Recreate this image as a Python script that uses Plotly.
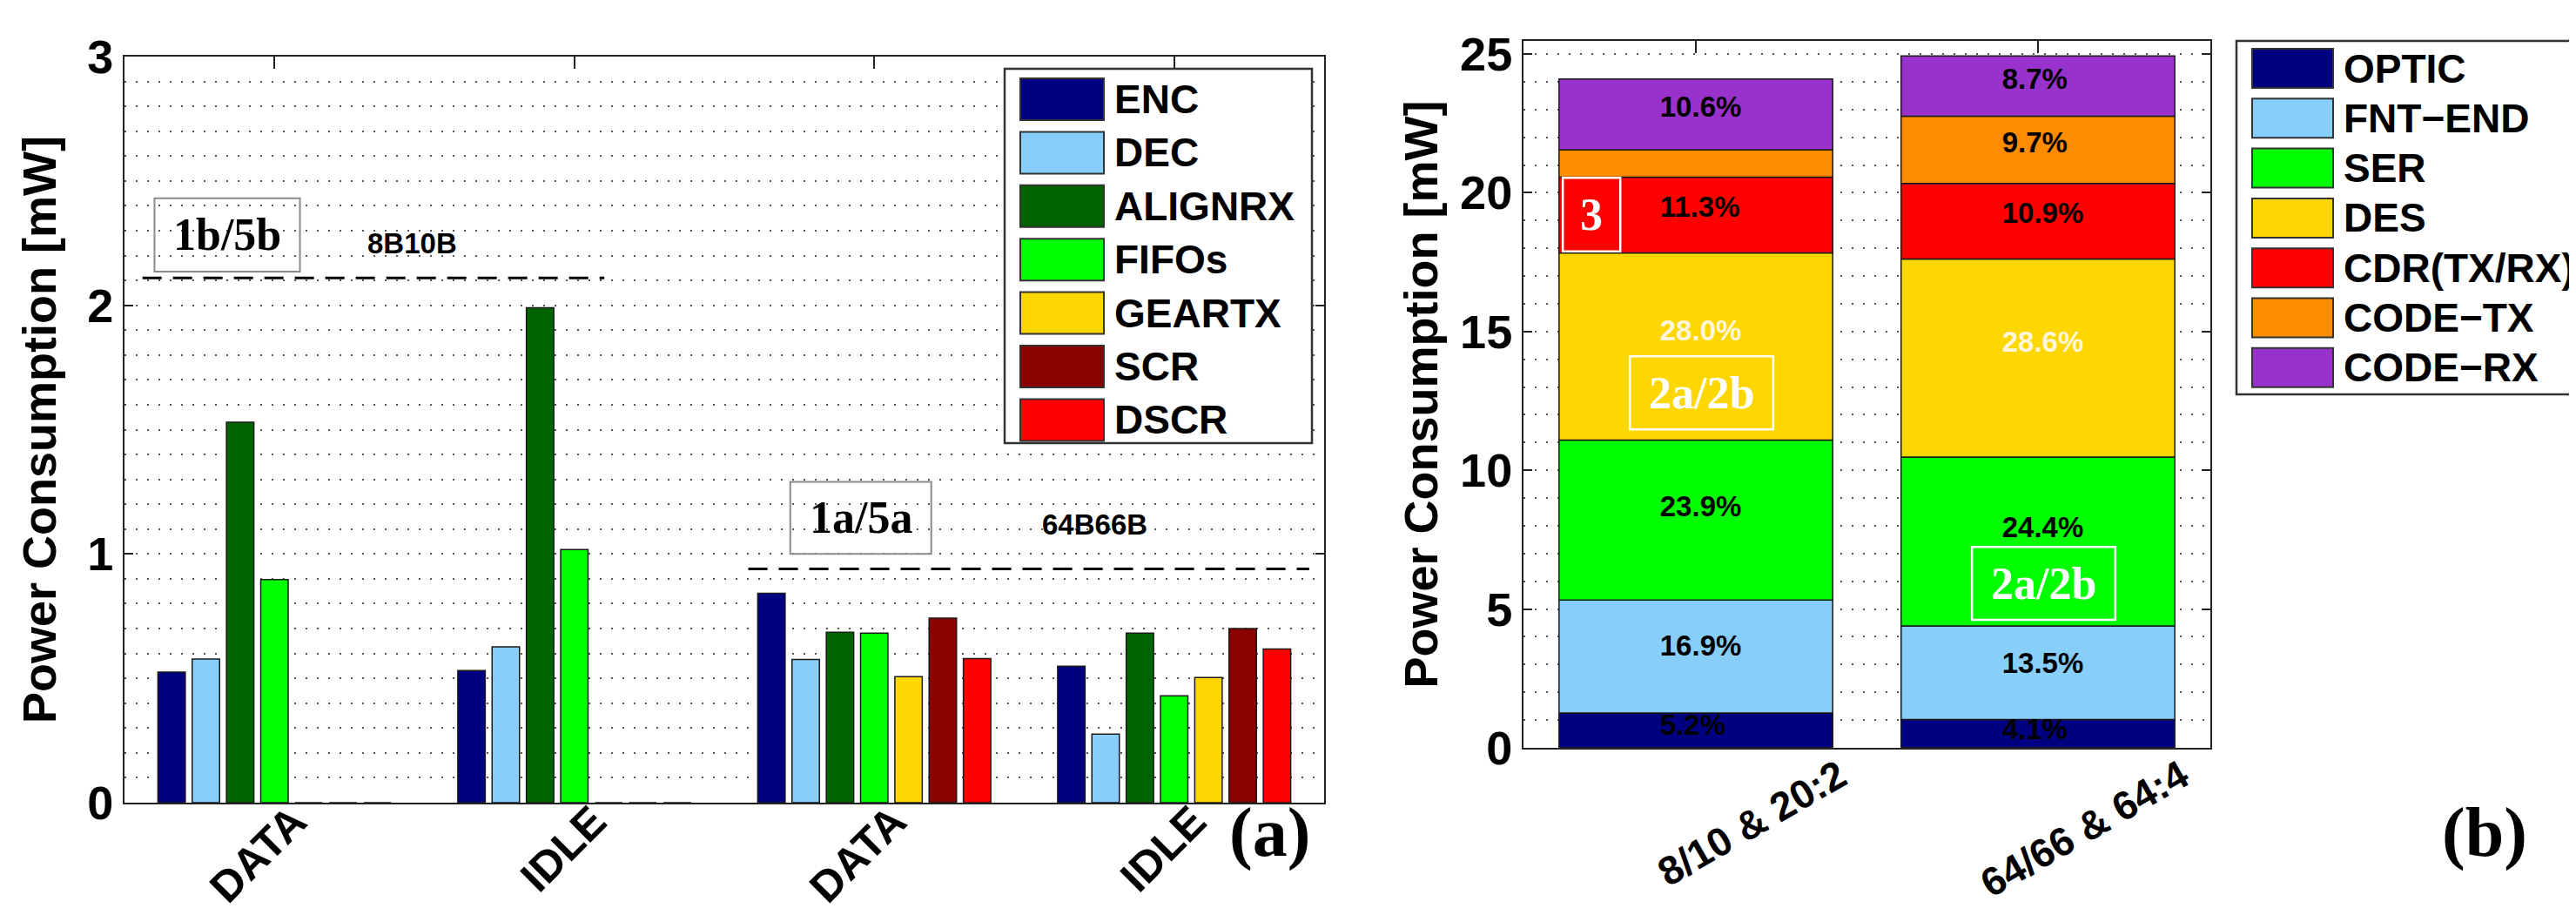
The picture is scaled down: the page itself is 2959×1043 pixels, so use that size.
import plotly.graph_objects as go

W, H = 2959, 1043
SANS = "Liberation Sans, Arial, Helvetica, sans-serif"
SERIF = "Liberation Serif, Times New Roman, serif"

# ---------------- panel (a): per-block power of the coding layer ----------------
code_states = ["DATA", "IDLE", "DATA", "IDLE"]
state_slots = [1, 2, 3, 4]
blocks_a = ["ENC", "DEC", "ALIGNRX", "FIFOs", "GEARTX", "SCR", "DSCR"]
enc_mw = [0.525, 0.531, 0.842, 0.549]
dec_mw = [0.578, 0.627, 0.576, 0.276]
alignrx_mw = [1.53, 1.99, 0.685, 0.682]
fifos_mw = [0.897, 1.018, 0.682, 0.430]
geartx_mw = [0, 0, 0.507, 0.503]
scr_mw = [0, 0, 0.742, 0.700]
dscr_mw = [0, 0, 0.579, 0.618]
series_a = [enc_mw, dec_mw, alignrx_mw, fifos_mw, geartx_mw, scr_mw, dscr_mw]
colors_a = ["#000080", "#87CEFA", "#006400", "#00FF00", "#FFD700", "#8B0000", "#FF0000"]

ref_codes = ["8B10B", "64B66B"]
ref_level_mw = [2.11, 0.94]
ref_tags = ["1b/5b", "1a/5a"]

# ---------------- panel (b): transceiver power breakdown ----------------
configs = ["8/10 & 20:2", "64/66 & 64:4"]
config_slots = [1, 2]
total_mw = [24.1, 24.95]
blocks_b = ["OPTIC", "FNT−END", "SER", "DES", "CDR(TX/RX)", "CODE−TX", "CODE−RX"]
optic_pct = [5.2, 4.1]
fntend_pct = [16.9, 13.5]
ser_pct = [23.9, 24.4]
des_pct = [28.0, 28.6]
cdr_pct = [11.3, 10.9]
codetx_pct = [4.1, 9.7]
coderx_pct = [10.6, 8.7]
series_b = [optic_pct, fntend_pct, ser_pct, des_pct, cdr_pct, codetx_pct, coderx_pct]
label_shown_b = [[1, 1], [1, 1], [1, 1], [1, 1], [1, 1], [0, 1], [1, 1]]
colors_b = ["#000080", "#87CEFA", "#00FF00", "#FFD700", "#FF0000", "#FF8C00", "#9932CC"]
label_colors_b = ["#000000", "#000000", "#000000", "#FFF6DC", "#000000", "#000000", "#000000"]
LABEL_FRAC = 0.57   # vertical placement of the % text inside each segment


def px(x):
    return x / W


def py(y):
    return 1 - y / H


fig = go.Figure()

# grouped bars, panel (a)
for name, vals, col in zip(blocks_a, series_a, colors_a):
    fig.add_trace(go.Bar(
        x=state_slots, y=vals, name=name, offsetgroup=name,
        marker=dict(color=col, line=dict(color="#1a1a1a", width=1.5)),
        xaxis="x", yaxis="y", showlegend=False))

# stacked bars, panel (b)
base = [0.0 for _ in config_slots]
lab_x, lab_y, lab_t, lab_c = [], [], [], []
for name, pct, col, lcol, shown in zip(blocks_b, series_b, colors_b, label_colors_b, label_shown_b):
    vals = [p * t / 100 for p, t in zip(pct, total_mw)]
    fig.add_trace(go.Bar(
        x=config_slots, y=vals, base=list(base), width=0.8, offset=-0.4, name=name,
        marker=dict(color=col, line=dict(color="#1a1a1a", width=1.5)),
        xaxis="x2", yaxis="y2", showlegend=False))
    for k in range(len(config_slots)):
        if shown[k]:
            lab_x.append(config_slots[k] - 0.105)
            lab_y.append(base[k] + vals[k] * LABEL_FRAC)
            lab_t.append(f"{pct[k]:.1f}%")
            lab_c.append(lcol)
    base = [b + v for b, v in zip(base, vals)]

fig.add_trace(go.Scatter(
    x=lab_x, y=lab_y, text=lab_t, mode="text", textposition="middle right",
    textfont=dict(family=SANS, size=33, color=lab_c, weight="bold"),
    xaxis="x2", yaxis="y2", showlegend=False, hoverinfo="skip"))

DOT = "2px,11px"
axis_common = dict(showline=True, linecolor="#222", linewidth=2, mirror="ticks",
                   ticks="inside", tickcolor="#222", tickwidth=2, zeroline=False,
                   layer="below traces", automargin=False)

fig.update_layout(
    width=W, height=H, margin=dict(l=0, r=0, t=0, b=0),
    paper_bgcolor="white", plot_bgcolor="white",
    barmode="group", bargap=0.2, bargroupgap=0.2,
    xaxis=dict(domain=[px(135), px(1513)], range=[0.5, 4.5], anchor="y",
               tickvals=state_slots, ticktext=code_states, tickangle=-45,
               ticklen=14, ticklabelshift=22, ticklabelstandoff=-30,
               tickfont=dict(family=SANS, size=50, color="black", weight="bold"),
               showgrid=False, **axis_common),
    yaxis=dict(domain=[py(914), py(57)], range=[0, 3], anchor="x",
               tickvals=[0, 1, 2, 3], ticklen=10,
               tickfont=dict(family=SANS, size=54, color="black", weight="bold"),
               showgrid=True, gridcolor="#555", gridwidth=2, griddash=DOT,
               minor=dict(dtick=0.1, showgrid=True, gridcolor="#555", gridwidth=2, griddash=DOT),
               title=dict(text="Power Consumption [mW]", standoff=18,
                          font=dict(family=SANS, size=54, color="black", weight="bold")),
               **axis_common),
    xaxis2=dict(domain=[px(1742), px(2531)], range=[0.496, 2.504], anchor="y2",
                tickvals=config_slots, ticktext=configs, tickangle=-30,
                ticklen=14, ticklabelshift=165, ticklabelstandoff=-14,
                tickfont=dict(family=SANS, size=46, color="black", weight="bold"),
                showgrid=False, **axis_common),
    yaxis2=dict(domain=[py(851), py(39)], range=[0, 25.47], anchor="x2",
                tickvals=[0, 5, 10, 15, 20, 25], ticklen=10,
                tickfont=dict(family=SANS, size=54, color="black", weight="bold"),
                showgrid=True, gridcolor="#555", gridwidth=2, griddash=DOT,
                minor=dict(dtick=1, showgrid=True, gridcolor="#555", gridwidth=2, griddash=DOT),
                title=dict(text="Power Consumption [mW]", standoff=8,
                           font=dict(family=SANS, size=54, color="black", weight="bold")),
                **axis_common),
)

shapes = []
ann = []

# reference levels (dashed) with tags, panel (a)
ref_spans = [(0.56, 2.10), (2.58, 4.45)]
tag_boxes = [(0.60, 1.085, 2.135, 2.43), (2.72, 3.19, 1.0, 1.29)]
code_text_pos = [(1.46, 2.25), (3.735, 1.12)]
for lvl, span, box, tag, code, cpos in zip(ref_level_mw, ref_spans, tag_boxes, ref_tags, ref_codes, code_text_pos):
    shapes.append(dict(type="line", xref="x", yref="y", x0=span[0], x1=span[1], y0=lvl, y1=lvl,
                       line=dict(color="black", width=3, dash="22px,13px")))
    shapes.append(dict(type="rect", xref="x", yref="y", x0=box[0], x1=box[1], y0=box[2], y1=box[3],
                       line=dict(color="#8a8a8a", width=2)))
    ann.append(dict(xref="x", yref="y", x=(box[0] + box[1]) / 2, y=(box[2] + box[3]) / 2, text=tag,
                    showarrow=False, font=dict(family=SERIF, size=52, color="black", weight="bold")))
    ann.append(dict(xref="x", yref="y", x=cpos[0], y=cpos[1], text=code, showarrow=False,
                    font=dict(family=SANS, size=33, color="black", weight="bold")))

# white tags, panel (b)
b_tags = ["3", "2a/2b", "2a/2b"]
b_boxes = [(0.611, 0.779, 17.89, 20.54), (0.807, 1.226, 11.47, 14.11), (1.807, 2.226, 4.61, 7.24)]
for tag, box in zip(b_tags, b_boxes):
    shapes.append(dict(type="rect", xref="x2", yref="y2", x0=box[0], x1=box[1], y0=box[2], y1=box[3],
                       line=dict(color="white", width=2.5)))
    ann.append(dict(xref="x2", yref="y2", x=(box[0] + box[1]) / 2, y=(box[2] + box[3]) / 2, text=tag,
                    showarrow=False, font=dict(family=SERIF, size=52, color="white", weight="bold")))

# legends drawn as boxes
def legend(names, colors, box, sw_x, sw_y0, sw_h, pitch, text_x):
    shapes.append(dict(type="rect", xref="paper", yref="paper", x0=px(box[0]), x1=px(box[1]),
                       y0=py(box[3]), y1=py(box[2]), line=dict(color="#333", width=2.5),
                       fillcolor="white", layer="above"))
    for i, (nm, col) in enumerate(zip(names, colors)):
        y0 = sw_y0 + i * pitch
        shapes.append(dict(type="rect", xref="paper", yref="paper", x0=px(sw_x[0]), x1=px(sw_x[1]),
                           y0=py(y0 + sw_h), y1=py(y0), fillcolor=col,
                           line=dict(color="#333", width=2)))
        ann.append(dict(xref="paper", yref="paper", x=px(text_x), y=py(y0 + sw_h / 2), text=nm,
                        xanchor="left", yanchor="middle", showarrow=False,
                        font=dict(family=SANS, size=46, color="black", weight="bold")))

legend(blocks_a, colors_a, (1146, 1499, 71, 501), (1164, 1260), 82, 48, 61.4, 1270)
legend(blocks_b, colors_b, (2561, 2955, 39, 445), (2579, 2672), 48, 45, 57.3, 2682)

ann.append(dict(xref="paper", yref="paper", x=px(1450), y=py(995), text="(a)", showarrow=False,
                font=dict(family=SERIF, size=80, color="black", weight="bold")))
ann.append(dict(xref="paper", yref="paper", x=px(2897), y=py(995), text="(b)", showarrow=False,
                font=dict(family=SERIF, size=80, color="black", weight="bold")))

fig.update_layout(shapes=shapes, annotations=ann)
fig.write_html("out.html")
